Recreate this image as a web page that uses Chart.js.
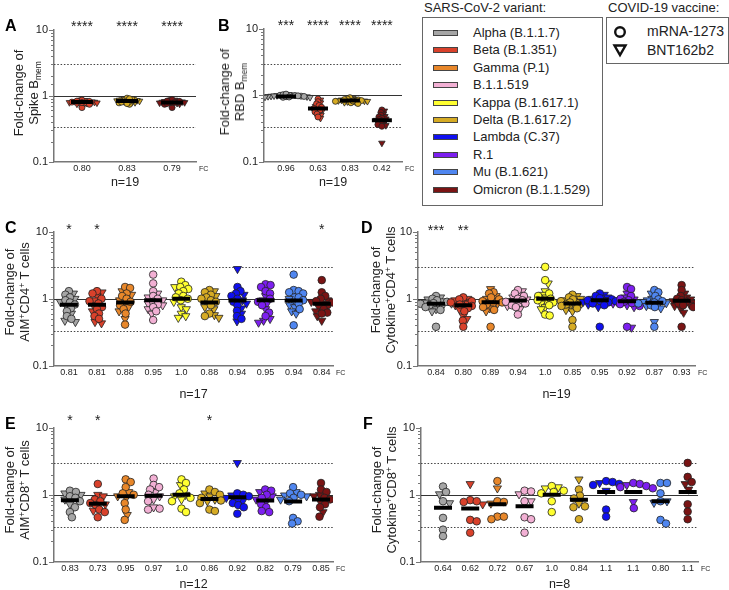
<!DOCTYPE html>
<html>
<head>
<meta charset="utf-8">
<script src="https://cdn.jsdelivr.net/npm/chart.js@4.4.1/dist/chart.umd.min.js"></script>
<style>
body { margin: 0; background: #fff; width: 729px; height: 590px; position: relative; overflow: hidden;
       font-family: 'Liberation Sans', Arial, sans-serif; color: #222; }
canvas { position: absolute; }
.txt { position: absolute; white-space: nowrap; }
.letter { position: absolute; font-weight: bold; font-size: 16px; line-height: 16px; color: #000; }
.ytitle { position: absolute; transform: translate(-50%, -50%) rotate(-90deg); text-align: center;
          font-size: 13px; line-height: 15px; white-space: nowrap; }
sup, sub { font-size: 0.65em; line-height: 0; position: relative; vertical-align: baseline; }
sup { top: -0.5em; }
sub { top: 0.3em; }
.box { position: absolute; border: 1px solid #666; box-sizing: border-box; }
.sw { position: absolute; width: 25px; height: 6px; border: 1px solid #444; box-sizing: border-box; }
</style>
</head>
<body>
<script>
// Variantes e cores
const variantNames = ['Alpha (B.1.1.7)', 'Beta (B.1.351)', 'Gamma (P.1)', 'B.1.1.519', 'Kappa (B.1.617.1)',
  'Delta (B.1.617.2)', 'Lambda (C.37)', 'R.1', 'Mu (B.1.621)', 'Omicron (B.1.1.529)'];
const variantColors = ['#a6a6a6', '#d9412b', '#e8872a', '#f2b0d4', '#ffff30', '#d6ab24', '#1010f0', '#7d1ff0', '#4f86f0', '#7a1414'];
const vaccineNames = ['mRNA-1273', 'BNT162b2'];

// Linhas de referência (fold-change)
const refLines = [3, 1, 1 / 3];

// Painel A - Spike Bmem
const panelA_variants = [1, 5, 9];
const panelA_fc = [0.80, 0.83, 0.79];
const panelA_stars = ['****', '****', '****'];
const panelA_mrna = [
  [0.66, 0.76, 0.78, 0.80, 0.82, 0.84, 0.86, 0.79, 0.83, 0.74],
  [0.74, 0.78, 0.82, 0.86, 0.88, 0.92, 0.84, 0.80, 0.76, 0.90],
  [0.66, 0.74, 0.78, 0.80, 0.82, 0.85, 0.87, 0.76, 0.79, 0.83]
];
const panelA_bnt = [
  [0.77, 0.80, 0.82, 0.79, 0.84, 0.81, 0.75, 0.85, 0.78],
  [0.83, 0.85, 0.87, 0.81, 0.89, 0.84, 0.79, 0.86, 0.82],
  [0.77, 0.80, 0.81, 0.78, 0.84, 0.75, 0.82, 0.79, 0.86]
];

// Painel B - RBD Bmem
const panelB_variants = [0, 1, 5, 9];
const panelB_fc = [0.96, 0.63, 0.83, 0.42];
const panelB_stars = ['***', '****', '****', '****'];
const panelB_mrna = [
  [0.93, 0.95, 0.97, 0.99, 1.0, 1.02, 1.04, 0.96, 0.98, 0.94],
  [0.88, 0.80, 0.74, 0.70, 0.66, 0.63, 0.60, 0.56, 0.52, 0.47],
  [0.92, 0.88, 0.85, 0.83, 0.81, 0.79, 0.77, 0.86, 0.82, 0.75],
  [0.60, 0.55, 0.50, 0.47, 0.45, 0.43, 0.41, 0.38, 0.36, 0.34]
];
const panelB_bnt = [
  [0.95, 0.97, 0.99, 1.01, 0.96, 0.93, 1.03, 0.98, 0.94],
  [0.85, 0.77, 0.68, 0.64, 0.61, 0.58, 0.54, 0.50, 0.45],
  [0.90, 0.87, 0.84, 0.82, 0.80, 0.78, 0.85, 0.83, 0.81],
  [0.58, 0.52, 0.48, 0.44, 0.42, 0.40, 0.37, 0.35, 0.19]
];

// Painel C - AIM+CD4+
const panelC_fc = [0.81, 0.81, 0.88, 0.95, 1.0, 0.88, 0.94, 0.95, 0.94, 0.84];
const panelC_stars = ['*', '*', '', '', '', '', '', '', '', '*'];
const panelC_mrna = [
  [1.3, 1.15, 1.05, 0.95, 0.88, 0.82, 0.72, 0.65, 0.55, 0.5],
  [1.3, 1.2, 1.0, 0.92, 0.85, 0.75, 0.7, 0.6, 0.55, 0.5],
  [1.5, 1.45, 1.2, 1.1, 1.0, 0.9, 0.8, 0.7, 0.6, 0.41],
  [2.3, 1.7, 1.3, 1.1, 1.0, 0.9, 0.82, 0.75, 0.65, 0.48],
  [1.8, 1.6, 1.5, 1.4, 1.3, 1.2, 1.1, 1.05, 1.0, 0.95],
  [1.35, 1.25, 1.15, 1.05, 1.0, 0.95, 0.9, 0.8, 0.6, 0.55],
  [1.5, 1.3, 1.2, 1.1, 1.0, 0.9, 0.8, 0.66, 0.55, 0.5],
  [1.65, 1.6, 1.5, 1.3, 1.2, 1.0, 0.9, 0.8, 0.62, 0.55],
  [2.3, 1.35, 1.3, 1.25, 1.2, 1.05, 0.95, 0.85, 0.7, 0.4],
  [1.9, 1.25, 1.1, 1.0, 0.92, 0.88, 0.8, 0.7, 0.62, 0.6]
];
const panelC_bnt = [
  [1.2, 1.0, 0.9, 0.78, 0.6, 0.47, 0.45],
  [1.25, 1.1, 0.95, 0.8, 0.65, 0.45, 0.43],
  [1.3, 1.15, 0.95, 0.85, 0.75, 0.65, 0.5],
  [1.2, 1.05, 0.95, 0.85, 0.8, 0.7, 0.6],
  [1.5, 0.9, 0.75, 0.7, 0.6, 0.55, 0.52],
  [1.3, 1.1, 0.88, 0.75, 0.7, 0.57, 0.52],
  [2.8, 1.15, 0.95, 0.85, 0.72, 0.6, 0.46],
  [1.1, 0.95, 0.85, 0.7, 0.5, 0.47, 0.44],
  [1.1, 1.0, 0.9, 0.8, 0.75, 0.65, 0.6],
  [0.95, 0.9, 0.85, 0.75, 0.65, 0.55, 0.47]
];

// Painel D - Cytokine+CD4+
const panelD_fc = [0.84, 0.80, 0.89, 0.94, 1.0, 0.85, 0.95, 0.92, 0.87, 0.93];
const panelD_stars = ['***', '**', '', '', '', '', '', '', '', ''];
const panelD_mrna = [
  [1.1, 1.0, 0.95, 0.9, 0.86, 0.84, 0.8, 0.75, 0.68, 0.38],
  [1.05, 0.98, 0.92, 0.88, 0.82, 0.78, 0.72, 0.65, 0.47, 0.38],
  [1.25, 1.2, 1.05, 0.98, 0.92, 0.88, 0.82, 0.75, 0.68, 0.38],
  [1.35, 1.2, 1.1, 1.0, 0.95, 0.9, 0.85, 0.8, 0.75, 0.58],
  [3.0, 1.9, 1.2, 1.1, 1.0, 0.95, 0.88, 0.8, 0.58, 0.56],
  [1.15, 1.05, 0.98, 0.92, 0.88, 0.82, 0.78, 0.72, 0.48, 0.38],
  [1.2, 1.1, 1.02, 0.98, 0.95, 0.92, 0.88, 0.85, 0.8, 0.38],
  [1.5, 1.4, 1.1, 1.0, 0.95, 0.9, 0.86, 0.83, 0.78, 0.38],
  [1.35, 1.25, 1.1, 0.98, 0.92, 0.88, 0.85, 0.8, 0.75, 0.38],
  [1.6, 1.35, 1.1, 1.0, 0.95, 0.9, 0.85, 0.8, 0.75, 0.38]
];
const panelD_bnt = [
  [1.05, 0.98, 0.92, 0.88, 0.85, 0.82, 0.78, 0.7, 0.65],
  [1.0, 0.95, 0.9, 0.85, 0.8, 0.75, 0.7, 0.55, 0.5],
  [1.4, 1.1, 1.0, 0.95, 0.9, 0.85, 0.8, 0.72, 0.65],
  [1.3, 1.15, 1.05, 0.98, 0.93, 0.88, 0.82, 0.78, 0.7],
  [1.7, 1.3, 1.15, 1.05, 0.98, 0.9, 0.85, 0.75, 0.7],
  [1.1, 1.0, 0.95, 0.9, 0.85, 0.8, 0.75, 0.68, 0.65],
  [1.15, 1.05, 1.0, 0.96, 0.93, 0.9, 0.86, 0.82, 0.75],
  [1.2, 1.05, 0.98, 0.93, 0.88, 0.85, 0.8, 0.75, 0.37],
  [1.2, 1.0, 0.95, 0.9, 0.86, 0.82, 0.78, 0.72, 0.45],
  [1.2, 1.05, 0.98, 0.92, 0.88, 0.82, 0.78, 0.7, 0.62]
];

// Painel E - AIM+CD8+
const panelE_fc = [0.83, 0.73, 0.95, 0.97, 1.0, 0.86, 0.92, 0.82, 0.79, 0.85];
const panelE_stars = ['*', '*', '', '', '', '*', '', '', '', ''];
const panelE_mrna = [
  [1.15, 1.1, 0.95, 0.9, 0.8, 0.65, 0.55, 0.46],
  [1.45, 0.85, 0.8, 0.75, 0.7, 0.6, 0.55, 0.46],
  [1.7, 1.55, 1.3, 1.05, 1.0, 0.75, 0.6, 0.42],
  [1.75, 1.4, 1.3, 1.2, 1.0, 0.8, 0.62, 0.6],
  [1.7, 1.5, 1.2, 1.05, 0.9, 0.8, 0.62, 0.55],
  [1.2, 1.1, 1.0, 0.9, 0.82, 0.75, 0.6, 0.57],
  [1.05, 1.0, 0.95, 0.85, 0.75, 0.7, 0.65, 0.52],
  [1.2, 1.15, 1.0, 0.9, 0.72, 0.65, 0.57, 0.55],
  [1.3, 1.05, 1.0, 0.9, 0.8, 0.45, 0.4, 0.37],
  [1.5, 1.2, 1.1, 0.9, 0.85, 0.72, 0.65, 0.47]
];
const panelE_bnt = [
  [1.05, 1.0, 0.85, 0.72],
  [1.0, 0.95, 0.72, 0.58],
  [1.1, 0.95, 0.9, 0.5],
  [1.1, 0.95, 0.85, 0.65],
  [1.4, 1.0, 0.95, 0.85],
  [1.05, 0.95, 0.85, 0.8],
  [3.0, 0.98, 0.9, 0.8],
  [1.1, 0.95, 0.85, 0.8],
  [1.1, 0.98, 0.95, 0.85],
  [1.0, 0.95, 0.8, 0.55]
];

// Painel F - Cytokine+CD8+
const panelF_fc = [0.64, 0.62, 0.72, 0.67, 1.0, 0.84, 1.1, 1.1, 0.80, 1.1];
const panelF_stars = ['', '', '', '', '', '', '', '', '', ''];
const panelF_mrna = [
  [1.33, 1.1, 0.8, 0.45, 0.3, 0.24],
  [0.83, 0.8, 0.78, 0.42, 0.4, 0.27],
  [1.6, 0.8, 0.78, 0.47, 0.47, 0.43],
  [1.15, 1.12, 0.8, 0.46, 0.43, 0.27],
  [1.35, 1.15, 1.1, 1.05, 0.8, 0.55],
  [1.2, 0.97, 0.88, 0.67, 0.65, 0.43],
  [1.6, 1.55, 1.45, 1.4, 0.6, 0.47],
  [1.5, 1.45, 1.35, 1.3, 1.25, 0.63],
  [1.5, 1.5, 1.05, 0.8, 0.42, 0.37],
  [3.0, 1.85, 1.55, 0.72, 0.56, 0.43]
];
const panelF_bnt = [
  [1.02, 0.75],
  [1.45, 0.72],
  [1.25, 0.74],
  [1.02, 0.8],
  [1.3, 1.25],
  [1.7, 0.74],
  [1.5, 1.15],
  [1.4, 0.78],
  [0.8, 0.76],
  [1.45, 1.2]
];

const allVariants = [0, 1, 2, 3, 4, 5, 6, 7, 8, 9];

// Layout dos painéis (posições em px)
const panels = [
  { variants: panelA_variants, fc: panelA_fc, stars: panelA_stars, mrna: panelA_mrna, bnt: panelA_bnt, n: 19,
    left: 54, right: 196, top: 23, bottom: 162, xmin: -0.62, xmax: 2.53, r: 3, gap: 0.42, bar: 11, titleY: 183, starDy: -3 },
  { variants: panelB_variants, fc: panelB_fc, stars: panelB_stars, mrna: panelB_mrna, bnt: panelB_bnt, n: 19,
    left: 264, right: 402, top: 23, bottom: 162, xmin: -0.69, xmax: 3.63, r: 3, gap: 0.45, bar: 10, titleY: 183, starDy: -3 },
  { variants: allVariants, fc: panelC_fc, stars: panelC_stars, mrna: panelC_mrna, bnt: panelC_bnt, n: 17,
    left: 54, right: 333, top: 227, bottom: 366, xmin: -0.53, xmax: 9.4, r: 3.8, gap: 0.66, bar: 9, titleY: 395, starDy: -2 },
  { variants: allVariants, fc: panelD_fc, stars: panelD_stars, mrna: panelD_mrna, bnt: panelD_bnt, n: 19,
    left: 418, right: 695, top: 227, bottom: 366, xmin: -0.66, xmax: 9.49, r: 3.8, gap: 0.58, bar: 9, titleY: 395, starDy: -1 },
  { variants: allVariants, fc: panelE_fc, stars: panelE_stars, mrna: panelE_mrna, bnt: panelE_bnt, n: 12,
    left: 54, right: 333, top: 423, bottom: 562, xmin: -0.57, xmax: 9.43, r: 3.8, gap: 0.75, bar: 9, titleY: 585, starDy: -7 },
  { variants: allVariants, fc: panelF_fc, stars: panelF_stars, mrna: panelF_mrna, bnt: panelF_bnt, n: 8,
    left: 421, right: 698, top: 423, bottom: 562, xmin: -0.81, xmax: 9.38, r: 3.8, gap: 0.85, bar: 9, titleY: 585, starDy: -3 }
];

Chart.defaults.font.family = "'Liberation Sans', Arial, sans-serif";
Chart.defaults.color = '#222';

// Funções auxiliares
function isDecade(v) {
  const l = Math.log10(v);
  return Math.abs(l - Math.round(l)) < 1e-6;
}

function fmtFC(v) {
  return v >= 1 ? v.toFixed(1) : v.toFixed(2);
}

// Beeswarm: desloca pontos na horizontal para não se sobreporem
function swarmOffsets(values, radius, gap, decadePx) {
  const pts = values.map((v, i) => ({ i, y: -Math.log10(v) * decadePx }));
  pts.sort((a, b) => a.y - b.y);
  const placed = [];
  const minD = 2 * radius * gap;
  const out = new Array(values.length).fill(0);
  pts.forEach(p => {
    let dx = 0;
    for (let k = 0; k < 400; k++) {
      const cand = (k % 2 === 1 ? 1 : -1) * Math.ceil(k / 2) * 0.5;
      const ok = placed.every(q => (cand - q.dx) ** 2 + (p.y - q.y) ** 2 >= minD * minD);
      if (ok) { dx = cand; break; }
    }
    placed.push({ y: p.y, dx });
    out[p.i] = dx;
  });
  return out;
}

const decorPlugin = {
  id: 'decor',
  beforeDatasetsDraw(chart) {
    const { ctx, chartArea: a, scales: { y } } = chart;
    ctx.save();
    refLines.forEach(v => {
      const py = Math.round(y.getPixelForValue(v)) + 0.5;
      ctx.beginPath();
      if (v === 1) {
        ctx.setLineDash([]);
        ctx.strokeStyle = '#333';
      } else {
        ctx.setLineDash([1.5, 1.8]);
        ctx.strokeStyle = '#444';
      }
      ctx.lineWidth = 1.2;
      ctx.moveTo(a.left, py);
      ctx.lineTo(a.right, py);
      ctx.stroke();
    });
    ctx.restore();
  },
  afterDraw(chart, args, opts) {
    const { ctx, chartArea: a, scales: { x, y } } = chart;
    ctx.save();
    // marcas do eixo y
    ctx.strokeStyle = '#777';
    ctx.lineWidth = 1;
    y.ticks.forEach(t => {
      const py = Math.round(y.getPixelForValue(t.value)) + 0.5;
      ctx.beginPath();
      ctx.moveTo(a.left, py);
      ctx.lineTo(a.left - (isDecade(t.value) ? 5 : 3), py);
      ctx.stroke();
    });
    // asteriscos de significância
    ctx.fillStyle = '#222';
    ctx.font = "14px 'Liberation Sans', Arial, sans-serif";
    ctx.textAlign = 'center';
    ctx.textBaseline = 'middle';
    opts.stars.forEach((s, i) => {
      if (s) ctx.fillText(s, x.getPixelForValue(i), y.getPixelForValue(10) + opts.starDy);
    });
    // rótulo FC
    ctx.font = "7px 'Liberation Sans', Arial, sans-serif";
    ctx.textAlign = 'left';
    ctx.fillText('FC', a.right + 3, a.bottom + 7.5);
    ctx.restore();
  }
};

panels.forEach(p => {
  const decadePx = (p.bottom - p.top) / 2;
  const pxPerUnit = (p.right - p.left) / (p.xmax - p.xmin);
  const circles = [], circleColors = [], tris = [], triColors = [];

  p.variants.forEach((vi, i) => {
    const vals = p.mrna[i].concat(p.bnt[i]);
    const offs = swarmOffsets(vals, p.r, p.gap, decadePx);
    vals.forEach((v, k) => {
      const pt = { x: i + offs[k] / pxPerUnit, y: v };
      if (k < p.mrna[i].length) {
        circles.push(pt); circleColors.push(variantColors[vi]);
      } else {
        tris.push(pt); triColors.push(variantColors[vi]);
      }
    });
  });

  const xH = p.titleY + 7.5 - p.bottom;
  const padRight = 16;
  const canvas = document.createElement('canvas');
  canvas.width = p.right - p.left + 40 + padRight;
  canvas.height = p.bottom - p.top + 8 + xH;
  canvas.style.left = (p.left - 40) + 'px';
  canvas.style.top = (p.top - 8) + 'px';
  document.body.appendChild(canvas);

  new Chart(canvas, {
    type: 'scatter',
    data: {
      datasets: [
        {
          data: p.fc.map((v, i) => ({ x: i, y: v })),
          pointStyle: 'line', pointRadius: p.bar, pointBorderWidth: 4, pointBorderColor: '#000'
        },
        {
          data: circles, pointStyle: 'circle', pointRadius: p.r,
          pointBackgroundColor: circleColors, pointBorderColor: '#222', pointBorderWidth: 0.8
        },
        {
          data: tris, pointStyle: 'triangle', pointRotation: 180, pointRadius: p.r * 1.25,
          pointBackgroundColor: triColors, pointBorderColor: '#222', pointBorderWidth: 0.8
        }
      ]
    },
    options: {
      responsive: false,
      animation: false,
      events: [],
      layout: { padding: { top: 8, right: padRight, left: 0, bottom: 0 } },
      plugins: {
        legend: { display: false },
        tooltip: { enabled: false },
        decor: { stars: p.stars, starDy: p.starDy }
      },
      scales: {
        x: {
          type: 'linear', min: p.xmin, max: p.xmax,
          afterFit: s => { s.height = xH; },
          afterBuildTicks: s => { s.ticks = p.fc.map((_, i) => ({ value: i })); },
          grid: { display: false, drawTicks: false },
          border: { display: true, color: '#777', width: 1.5 },
          ticks: { autoSkip: false, maxRotation: 0, padding: 2, font: { size: 9 }, color: '#222',
                   callback: v => fmtFC(p.fc[Math.round(v)]) },
          title: { display: true, text: 'n=' + p.n, font: { size: 12.5 }, color: '#222', padding: { top: 0, bottom: 0 } }
        },
        y: {
          type: 'logarithmic', min: 0.1, max: 10,
          afterFit: s => { s.width = 40; },
          grid: { display: false, drawTicks: false },
          border: { display: true, color: '#777', width: 1.5 },
          ticks: { autoSkip: false, padding: 6, font: { size: 11 }, color: '#222',
                   callback: v => isDecade(v) ? (v < 1 ? '0.1' : String(Math.round(v))) : '' }
        }
      }
    },
    plugins: [decorPlugin]
  });
});

// Textos HTML: letras, títulos do eixo y, legendas
function addHTML(html) {
  document.body.insertAdjacentHTML('beforeend', html);
}

[['A', 5, 18], ['B', 218, 18], ['C', 5, 220], ['D', 361, 220], ['E', 5, 416], ['F', 363, 416]]
  .forEach(([t, l, tp]) => addHTML(`<div class="letter" style="left:${l}px;top:${tp}px">${t}</div>`));

const yTitles = [
  ['Fold-change of<br>Spike B<sub>mem</sub>', 26, 93],
  ['Fold-change of<br>RBD B<sub>mem</sub>', 232, 92],
  ['Fold-change of<br>AIM<sup>+</sup>CD4<sup>+</sup> T cells', 17, 292],
  ['Fold-change of<br>Cytokine<sup>+</sup>CD4<sup>+</sup> T cells', 383, 290],
  ['Fold-change of<br>AIM<sup>+</sup>CD8<sup>+</sup> T cells', 17, 490],
  ['Fold-change of<br>Cytokine<sup>+</sup>CD8<sup>+</sup> T cells', 384, 490]
];
yTitles.forEach(([t, cx, cy]) => addHTML(`<div class="ytitle" style="left:${cx}px;top:${cy}px">${t}</div>`));

// Legenda das variantes
addHTML('<div class="txt" style="left:424px;top:0px;font-size:13px">SARS-CoV-2 variant:</div>');
addHTML('<div class="box" style="left:422px;top:17px;width:181px;height:189px"></div>');
variantNames.forEach((name, i) => {
  const cy = 33 + i * 17.4;
  addHTML(`<div class="sw" style="left:433px;top:${cy - 3}px;background:${variantColors[i]}"></div>`);
  addHTML(`<div class="txt" style="left:473px;top:${cy - 8}px;font-size:13px;line-height:16px">${name}</div>`);
});

// Legenda das vacinas
addHTML('<div class="txt" style="left:608px;top:0px;font-size:13px">COVID-19 vaccine:</div>');
addHTML('<div class="box" style="left:606px;top:17px;width:123px;height:47px"></div>');
addHTML(`<svg style="position:absolute;left:612px;top:24px" width="18" height="36">
  <circle cx="8" cy="8" r="4.8" fill="none" stroke="#111" stroke-width="2.4"/>
  <polygon points="2.5,21.5 13.5,21.5 8,31" fill="none" stroke="#111" stroke-width="2.4" stroke-linejoin="miter"/>
</svg>`);
vaccineNames.forEach((name, i) => {
  const cy = 31 + i * 18.5;
  addHTML(`<div class="txt" style="left:647px;top:${cy - 8}px;font-size:14px;line-height:16px">${name}</div>`);
});
</script>
</body>
</html>
